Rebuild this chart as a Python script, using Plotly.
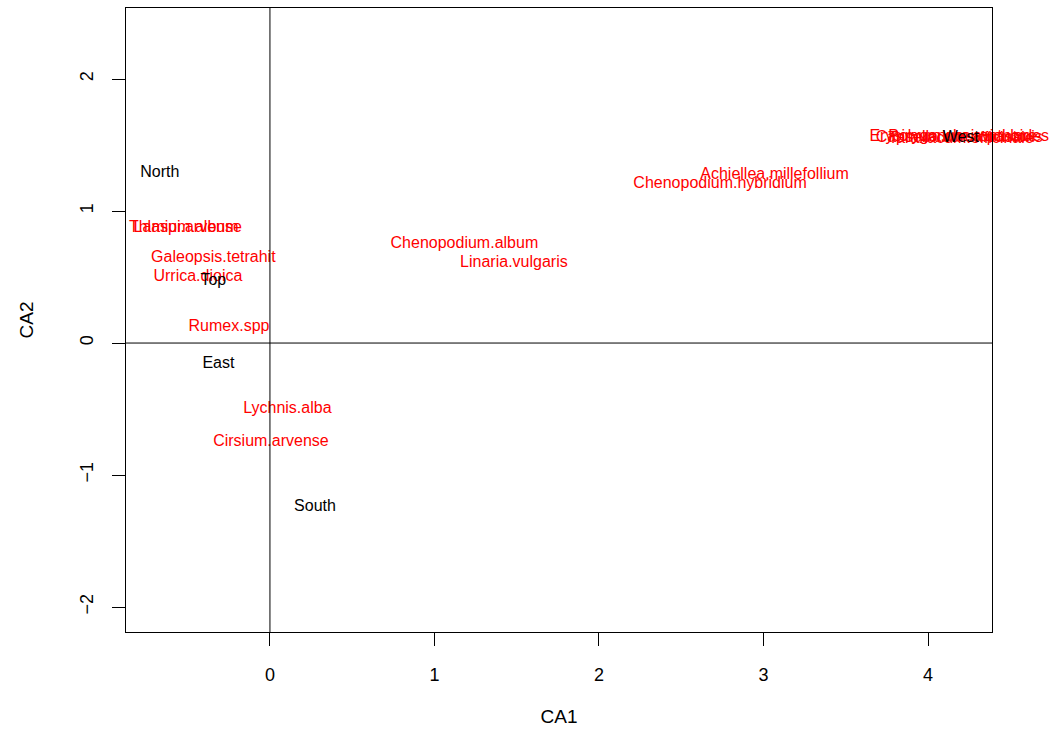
import plotly.graph_objects as go

# Site scores (black labels)
site_labels = ["North", "Top", "East", "South", "West"]
site_ca1 = [-0.669, -0.344, -0.313, 0.274, 4.20]
site_ca2 = [1.288, 0.47, -0.159, -1.242, 1.553]

# Species scores (red labels)
species_labels = [
    "Achiellea.millefollium", "Chenopodium.hybridium", "Chenopodium.album",
    "Linaria.vulgaris", "Galeopsis.tetrahit", "Urrica.dioica", "Rumex.spp",
    "Lychnis.alba", "Cirsium.arvense", "Thlaspi.arvense", "Lamium.album",
    "Erysimum.cheiranthoides", "Taraxacum.officinale", "Polygonum.aviculare",
    "Capsella.bursa.pastoris",
]
species_ca1 = [3.067, 2.736, 1.182, 1.483, -0.344, -0.438, -0.249,
               0.106, 0.006, -0.514, -0.51, 4.19, 4.20, 4.21, 4.19]
species_ca2 = [1.273, 1.205, 0.75, 0.606, 0.644, 0.50, 0.121,
               -0.50, -0.75, 0.871, 0.871, 1.56, 1.545, 1.56, 1.555]

x_range = [-0.875, 4.389]
y_range = [-2.189, 2.538]
x_ticks = [0, 1, 2, 3, 4]
y_ticks = [-2, -1, 0, 1, 2]

FONT = "Liberation Sans, Arial, sans-serif"

fig = go.Figure()
fig.add_trace(go.Scatter(
    x=species_ca1, y=species_ca2, text=species_labels, mode="text",
    textposition="middle center", cliponaxis=False,
    textfont=dict(family=FONT, size=16, color="#FF0000"), showlegend=False,
))
fig.add_trace(go.Scatter(
    x=site_ca1, y=site_ca2, text=site_labels, mode="text",
    textposition="middle center", cliponaxis=False,
    textfont=dict(family=FONT, size=16, color="black"), showlegend=False,
))

fig.add_shape(type="line", x0=0, x1=0, y0=y_range[0], y1=y_range[1],
              xref="x", yref="y", line=dict(color="black", width=1))
fig.add_shape(type="line", x0=x_range[0], x1=x_range[1], y0=0, y1=0,
              xref="x", yref="y", line=dict(color="black", width=1))

axis_common = dict(
    showgrid=False, zeroline=False, showline=True, linecolor="black",
    linewidth=1, mirror=True, ticks="outside", ticklen=13, tickwidth=1,
    tickcolor="black", tickfont=dict(family=FONT, size=18, color="black"),
)

fig.update_layout(
    width=1059, height=732,
    margin=dict(l=126, r=67, t=8, b=100),
    paper_bgcolor="white", plot_bgcolor="white",
    font=dict(family=FONT, color="black"),
    xaxis=dict(range=x_range, tickvals=x_ticks, ticklabelstandoff=13,
               title=dict(text="CA1", font=dict(family=FONT, size=19), standoff=26),
               **axis_common),
    yaxis=dict(range=y_range, tickvals=y_ticks, tickangle=-90, ticklabelstandoff=12,
               title=dict(text="CA2", font=dict(family=FONT, size=19), standoff=38),
               **axis_common),
)

fig.write_html("out.html")
